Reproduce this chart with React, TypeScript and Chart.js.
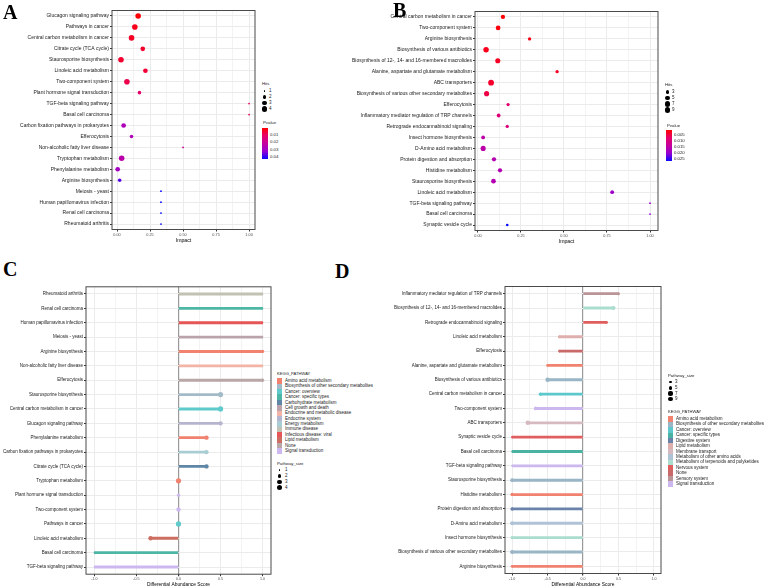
import React, { useEffect, useRef } from 'react';
import { Chart, registerables } from 'chart.js';
Chart.register(...registerables);

const SANS = "'Liberation Sans', Arial, Helvetica, sans-serif";
const SERIF = "'Liberation Serif', 'Times New Roman', serif";

// ---------------- Panel A ----------------
const pathwaysA = [
  'Glucagon signaling pathway', 'Pathways in cancer', 'Central carbon metabolism in cancer',
  'Citrate cycle (TCA cycle)', 'Staurosporine biosynthesis', 'Linoleic acid metabolism',
  'Two-component system', 'Plant hormone signal transduction', 'TGF-beta signaling pathway',
  'Basal cell carcinoma', 'Carbon fixation pathways in prokaryotes', 'Efferocytosis',
  'Non-alcoholic fatty liver disease', 'Tryptophan metabolism', 'Phenylalanine metabolism',
  'Arginine biosynthesis', 'Meiosis - yeast', 'Human papillomavirus infection',
  'Renal cell carcinoma', 'Rheumatoid arthritis',
];
const impactA = [0.16, 0.135, 0.11, 0.195, 0.03, 0.215, 0.075, 0.17, 1.0, 1.0, 0.05, 0.11, 0.5, 0.035, 0.005, 0.02, 0.333, 0.333, 0.333, 0.333];
const hitsA = [4, 4, 4, 3, 4, 3, 4, 2, 1, 1, 3, 2, 1, 4, 3, 2, 1, 1, 1, 1];
const pvalueA = [0.0003, 0.003, 0.004, 0.005, 0.005, 0.006, 0.008, 0.011, 0.010, 0.010, 0.027, 0.027, 0.020, 0.024, 0.029, 0.037, 0.0429, 0.0429, 0.0429, 0.0429];
const hitsLegendA = [1, 2, 3, 4];
const pvalueTicksA = [0.01, 0.02, 0.03, 0.04];

// ---------------- Panel B ----------------
const pathwaysB = [
  'Central carbon metabolism in cancer', 'Two-component system', 'Arginine biosynthesis',
  'Biosynthesis of various antibiotics', 'Biosynthesis of 12-, 14- and 16-membered macrolides',
  'Alanine, aspartate and glutamate metabolism', 'ABC transporters',
  'Biosynthesis of various other secondary metabolites', 'Efferocytosis',
  'Inflammatory mediator regulation of TRP channels', 'Retrograde endocannabinoid signaling',
  'Insect hormone biosynthesis', 'D-Amino acid metabolism', 'Protein digestion and absorption',
  'Histidine metabolism', 'Staurosporine biosynthesis', 'Linoleic acid metabolism',
  'TGF-beta signaling pathway', 'Basal cell carcinoma', 'Synaptic vesicle cycle',
];
const impactB = [0.145, 0.117, 0.30, 0.047, 0.115, 0.46, 0.076, 0.05, 0.175, 0.12, 0.17, 0.03, 0.03, 0.093, 0.128, 0.09, 0.78, 1.0, 1.0, 0.17];
const hitsB = [5, 6, 3, 8, 7, 3, 9, 7, 3, 4, 3, 4, 7, 5, 5, 6, 4, 1, 1, 2];
const pvalueB = [0.0008, 0.0015, 0.002, 0.0025, 0.003, 0.003, 0.0035, 0.005, 0.008, 0.009, 0.0095, 0.015, 0.015, 0.016, 0.016, 0.016, 0.019, 0.020, 0.020, 0.0266];
const hitsLegendB = [3, 5, 7, 9];
const pvalueTicksB = [0.005, 0.01, 0.015, 0.02, 0.025];

// ---------------- Panel C ----------------
const pathwaysC = [
  'Rheumatoid arthritis', 'Renal cell carcinoma', 'Human papillomavirus infection', 'Meiosis - yeast',
  'Arginine biosynthesis', 'Non-alcoholic fatty liver disease', 'Efferocytosis',
  'Staurosporine biosynthesis', 'Central carbon metabolism in cancer', 'Glucagon signaling pathway',
  'Phenylalanine metabolism', 'Carbon fixation pathways in prokaryotes', 'Citrate cycle (TCA cycle)',
  'Tryptophan metabolism', 'Plant hormone signal transduction', 'Two-component system',
  'Pathways in cancer', 'Linoleic acid metabolism', 'Basal cell carcinoma', 'TGF-beta signaling pathway',
];
const scoreC = [1, 1, 1, 1, 1, 1, 1, 0.5, 0.5, 0.5, 0.333, 0.333, 0.333, 0, 0, 0, 0, -0.333, -1, -1];
const sizeC = [1, 1, 1, 1, 2, 1, 2, 4, 4, 3, 3, 3, 3, 4, 2, 3, 4, 3, 1, 1];
const keggC = [
  'Immune disease', 'Cancer: specific types', 'Infectious disease: viral', 'Cell growth and death',
  'Amino acid metabolism', 'Endocrine and metabolic disease', 'None',
  'Biosynthesis of other secondary metabolites', 'Cancer: overview', 'Endocrine system',
  'Amino acid metabolism', 'Energy metabolism', 'Carbohydrate metabolism',
  'Amino acid metabolism', 'Signal transduction', 'Signal transduction',
  'Cancer: overview', 'Lipid metabolism', 'Cancer: specific types', 'Signal transduction',
];
const keggLegendC = [
  'Amino acid metabolism', 'Biosynthesis of other secondary metabolites', 'Cancer: overview',
  'Cancer: specific types', 'Carbohydrate metabolism', 'Cell growth and death',
  'Endocrine and metabolic disease', 'Endocrine system', 'Energy metabolism', 'Immune disease',
  'Infectious disease: viral', 'Lipid metabolism', 'None', 'Signal transduction',
];
const keggColorsC = ['#F0826F', '#A3BBC8', '#5ECACB', '#4DB6A4', '#5E86A6', '#BBA3AC', '#F3B4A6', '#B6B5CF', '#A9CDD3', '#C2C2B4', '#E65656', '#CD6E62', '#B9A6A6', '#CCB8EE'];
const sizeLegendC = [1, 2, 3, 4];

// ---------------- Panel D ----------------
const pathwaysD = [
  'Inflammatory mediator regulation of TRP channels', 'Biosynthesis of 12-, 14- and 16-membered macrolides',
  'Retrograde endocannabinoid signaling', 'Linoleic acid metabolism', 'Efferocytosis',
  'Alanine, aspartate and glutamate metabolism', 'Biosynthesis of various antibiotics',
  'Central carbon metabolism in cancer', 'Two-component system', 'ABC transporters',
  'Synaptic vesicle cycle', 'Basal cell carcinoma', 'TGF-beta signaling pathway',
  'Staurosporine biosynthesis', 'Histidine metabolism', 'Protein digestion and absorption',
  'D-Amino acid metabolism', 'Insect hormone biosynthesis',
  'Biosynthesis of various other secondary metabolites', 'Arginine biosynthesis',
];
const scoreD = [0.5, 0.43, 0.333, -0.333, -0.333, -0.5, -0.5, -0.6, -0.667, -0.778, -1, -1, -1, -1, -1, -1, -1, -1, -1, -1];
const sizeD = [4, 7, 3, 4, 3, 3, 8, 5, 6, 9, 2, 1, 1, 6, 5, 5, 7, 4, 7, 3];
const keggD = [
  'Sensory system', 'Metabolism of terpenoids and polyketides', 'Nervous system', 'Lipid metabolism',
  'None', 'Amino acid metabolism', 'Biosynthesis of other secondary metabolites', 'Cancer: overview',
  'Signal transduction', 'Membrane transport', 'Nervous system', 'Cancer: specific types',
  'Signal transduction', 'Biosynthesis of other secondary metabolites', 'Amino acid metabolism',
  'Digestive system', 'Metabolism of other amino acids', 'Metabolism of terpenoids and polyketides',
  'Biosynthesis of other secondary metabolites', 'Amino acid metabolism',
];
const keggLegendD = [
  'Amino acid metabolism', 'Biosynthesis of other secondary metabolites', 'Cancer: overview',
  'Cancer: specific types', 'Digestive system', 'Lipid metabolism', 'Membrane transport',
  'Metabolism of other amino acids', 'Metabolism of terpenoids and polyketides', 'Nervous system',
  'None', 'Sensory system', 'Signal transduction',
];
const keggColorsD = ['#F0826F', '#99B5C6', '#5CC8CB', '#49B2A2', '#6B82AA', '#DDB0AE', '#D7B9C0', '#B0C3D6', '#ABDDCF', '#E15E5E', '#C9696A', '#BA9596', '#CCB8EE'];
const sizeLegendD = [3, 5, 7, 9];

// ---------------- Axis ticks ----------------
const impactTicks = [0, 0.25, 0.5, 0.75, 1];
const impactMinor = [0.125, 0.375, 0.625, 0.875];
const scoreTicks = [-1, -0.5, 0, 0.5, 1];
const scoreMinor = [-0.75, -0.25, 0.25, 0.75];

// ---------------- helpers ----------------
const gradStops: [number, number[]][] = [
  [0, [255, 0, 0]], [0.25, [230, 0, 105]], [0.5, [198, 0, 158]], [0.75, [150, 0, 210]], [1, [10, 10, 255]],
];
function gradColor(t: number) {
  t = Math.max(0, Math.min(1, t));
  for (let i = 0; i < gradStops.length - 1; i++) {
    const [t0, c0] = gradStops[i];
    const [t1, c1] = gradStops[i + 1];
    if (t <= t1) {
      const f = (t - t0) / (t1 - t0);
      const c = c0.map((v, k) => Math.round(v + (c1[k] - v) * f));
      return `rgb(${c[0]},${c[1]},${c[2]})`;
    }
  }
  return 'rgb(10,10,255)';
}
const cssGradient = `linear-gradient(to bottom, ${gradStops.map(([t]) => `${gradColor(t)} ${t * 100}%`).join(', ')})`;

const rA = (h: number) => Math.sqrt(Math.max(0.2, -1.53 + 2.34 * h));
const rB = (h: number) => Math.sqrt(Math.max(0.2, -0.14 + 0.95 * h));
const rC = (h: number) => Math.sqrt(Math.max(0.2, -1.4 + 2.04 * h));
const rD = (h: number) => Math.sqrt(Math.max(0.2, 0.06 + 0.58 * h));

const framePlugin = {
  id: 'frame',
  afterDraw(chart: any) {
    const { ctx, chartArea: a } = chart;
    ctx.save();
    ctx.strokeStyle = '#4a4a4a';
    ctx.lineWidth = 1;
    ctx.strokeRect(a.left, a.top, a.right - a.left, a.bottom - a.top);
    ctx.restore();
  },
};

type Area = { left: number; right: number; top: number; bottom: number };

function xScale(min: number, max: number, majors: number[], minors: number[], digits: number, title: string, H: number, area: Area, tickFont: number, titleFont: number, titlePad: number) {
  return {
    type: 'linear',
    min, max,
    afterBuildTicks: (s: any) => {
      s.ticks = [...majors, ...minors].sort((a, b) => a - b).map((v) => ({ value: v }));
    },
    afterFit: (s: any) => { s.height = H - area.bottom; },
    ticks: {
      autoSkip: false, maxRotation: 0, padding: 1,
      font: { family: SANS, size: tickFont },
      color: '#4d4d4d',
      callback: (v: number) => (majors.includes(v) ? v.toFixed(digits) : ''),
    },
    grid: {
      color: (c: any) => (c.tick && c.tick.value === 0 && digits === 1 ? '#9a9a9a' : '#EBEBEB'),
      lineWidth: (c: any) => (c.tick && c.tick.value === 0 && digits === 1 ? 1.2 : (c.tick && minors.includes(c.tick.value) ? 0.6 : 1)),
      tickLength: 2,
      tickColor: (c: any) => (c.tick && majors.includes(c.tick.value) ? '#333' : 'rgba(0,0,0,0)'),
    },
    border: { display: false },
    title: {
      display: true, text: title, color: '#000',
      font: { family: SANS, size: titleFont, lineHeight: 1 },
      padding: { top: 0, bottom: titlePad },
    },
  };
}

function yScale(labels: string[], area: Area, font: number) {
  return {
    type: 'category',
    labels,
    offset: true,
    afterFit: (s: any) => { s.width = area.left; },
    ticks: { autoSkip: false, padding: 1, font: { family: SANS, size: font }, color: '#1a1a1a' },
    grid: { offset: false, color: '#EBEBEB', lineWidth: 1, tickLength: 2, tickColor: '#333' },
    border: { display: false },
  };
}

function DotPanel(props: any) {
  const { left, top, width, height, area, labels, impact, hits, pvals, xMin, xMax, radius, titlePad } = props;
  const ref = useRef<HTMLCanvasElement>(null);
  useEffect(() => {
    const lo = Math.min(...pvals);
    const hi = Math.max(...pvals);
    const chart = new Chart(ref.current as HTMLCanvasElement, {
      type: 'scatter',
      data: {
        datasets: [{
          data: labels.map((l: string, i: number) => ({ x: impact[i], y: l })),
          pointRadius: hits.map(radius),
          pointHoverRadius: hits.map(radius),
          pointBackgroundColor: pvals.map((p: number) => gradColor((p - lo) / (hi - lo))),
          pointBorderWidth: 0,
        }],
      },
      options: {
        responsive: false, animation: false, events: [], devicePixelRatio: 1,
        layout: { padding: { left: 0, top: area.top, right: width - area.right, bottom: 0 } },
        plugins: { legend: { display: false }, tooltip: { enabled: false } },
        scales: {
          x: xScale(xMin, xMax, impactTicks, impactMinor, 2, 'Impact', height, area, 3.8, 5.2, titlePad),
          y: yScale(labels, area, 5),
        },
      } as any,
      plugins: [framePlugin],
    });
    return () => chart.destroy();
  }, []);
  return <canvas ref={ref} width={width} height={height} style={{ position: 'absolute', left, top, width, height }} />;
}

function LollipopPanel(props: any) {
  const { left, top, width, height, area, labels, values, sizes, colors, radius } = props;
  const ref = useRef<HTMLCanvasElement>(null);
  useEffect(() => {
    const chart = new Chart(ref.current as HTMLCanvasElement, {
      type: 'bar',
      data: {
        labels,
        datasets: [
          {
            type: 'line', indexAxis: 'y', data: values, showLine: false, order: 0,
            pointRadius: sizes.map(radius), pointHoverRadius: sizes.map(radius),
            pointBackgroundColor: colors, pointBorderWidth: 0,
          },
          {
            type: 'bar', indexAxis: 'y', data: values, order: 1, grouped: false,
            backgroundColor: colors, borderWidth: 0, barThickness: 2.2,
          },
        ],
      },
      options: {
        indexAxis: 'y',
        responsive: false, animation: false, events: [], devicePixelRatio: 1,
        layout: { padding: { left: 0, top: area.top, right: width - area.right, bottom: 0 } },
        plugins: { legend: { display: false }, tooltip: { enabled: false } },
        scales: {
          x: xScale(-1.1, 1.1, scoreTicks, scoreMinor, 1, 'Differential Abundance Score', height, area, 3.6, 4.85, 0),
          y: yScale(labels, area, 4.5),
        },
      } as any,
      plugins: [framePlugin],
    });
    return () => chart.destroy();
  }, []);
  return <canvas ref={ref} width={width} height={height} style={{ position: 'absolute', left, top, width, height }} />;
}

const T = ({ x, y, s, children, c = '#222', family = SANS, w = 400 }: any) => (
  <div style={{
    position: 'absolute', left: x, top: y, fontSize: s, lineHeight: 1, transform: 'translateY(-50%)',
    whiteSpace: 'nowrap', color: c, fontFamily: family, fontWeight: w,
  }}>{children}</div>
);

const Dot = ({ x, y, r }: any) => (
  <div style={{ position: 'absolute', left: x - r, top: y - r, width: 2 * r, height: 2 * r, borderRadius: '50%', background: '#000' }} />
);

function SizeLegend({ x, y, title, values, radius, rowYs, labelX }: any) {
  return (
    <>
      <T x={x} y={y} s={4.3}>{title}</T>
      {values.map((v: number, i: number) => (
        <React.Fragment key={i}>
          <Dot x={x + 2.5} y={rowYs[i]} r={radius(v)} />
          <T x={labelX} y={rowYs[i]} s={4.5}>{v}</T>
        </React.Fragment>
      ))}
    </>
  );
}

function ColorBar({ x, y, top, bottom, pvals, ticks, digits }: any) {
  const lo = Math.min(...pvals);
  const hi = Math.max(...pvals);
  return (
    <>
      <T x={x} y={y} s={4.3}>Pvalue</T>
      <div style={{ position: 'absolute', left: x - 1, top, width: 6, height: bottom - top, background: cssGradient }} />
      {ticks.map((t: number, i: number) => (
        <T key={i} x={x + 7} y={top + ((t - lo) / (hi - lo)) * (bottom - top)} s={4.3}>{t.toFixed(digits)}</T>
      ))}
    </>
  );
}

function KeggLegend({ x, y, first, step, names, colors }: any) {
  return (
    <>
      <T x={x} y={y} s={4.1}>KEGG_PATHWAY</T>
      {names.map((n: string, i: number) => (
        <React.Fragment key={i}>
          <div style={{ position: 'absolute', left: x, top: first + i * step - step / 2, width: 5, height: step, background: colors[i] }} />
          <T x={x + 8} y={first + i * step} s={4.5}>{n}</T>
        </React.Fragment>
      ))}
    </>
  );
}

export default function App() {
  const colorsC = keggC.map((k) => keggColorsC[keggLegendC.indexOf(k)]);
  const colorsD = keggD.map((k) => keggColorsD[keggLegendD.indexOf(k)]);
  return (
    <div style={{ position: 'absolute', left: 0, top: 0, width: 767, height: 587, overflow: 'hidden', background: '#fff' }}>
      <DotPanel left={0} top={0} width={258} height={250}
        area={{ left: 112, right: 255, top: 10.5, bottom: 229.5 }}
        labels={pathwaysA} impact={impactA} hits={hitsA} pvals={pvalueA}
        xMin={-0.038} xMax={1.045} radius={rA} titlePad={6.5} />
      <DotPanel left={340} top={0} width={330} height={250}
        area={{ left: 135, right: 318, top: 11.5, bottom: 230.5 }}
        labels={pathwaysB} impact={impactB} hits={hitsB} pvals={pvalueB}
        xMin={-0.0174} xMax={1.0465} radius={rB} titlePad={5.5} />
      <LollipopPanel left={0} top={280} width={275} height={307}
        area={{ left: 86, right: 271, top: 6.8, bottom: 294.2 }}
        labels={pathwaysC} values={scoreC} sizes={sizeC} colors={colorsC} radius={rC} />
      <LollipopPanel left={390} top={280} width={275} height={307}
        area={{ left: 115, right: 271, top: 6.5, bottom: 293.5 }}
        labels={pathwaysD} values={scoreD} sizes={sizeD} colors={colorsD} radius={rD} />

      <T x={3} y={11.5} s={20} family={SERIF} w={700} c="#000">A</T>
      <T x={393} y={10} s={20} family={SERIF} w={700} c="#000">B</T>
      <T x={3} y={268.5} s={20} family={SERIF} w={700} c="#000">C</T>
      <T x={335} y={271} s={20} family={SERIF} w={700} c="#000">D</T>

      <SizeLegend x={262} y={84} title="Hits" values={hitsLegendA} radius={rA} rowYs={[91, 97, 103, 109]} labelX={269} />
      <ColorBar x={263} y={123} top={128} bottom={159} pvals={pvalueA} ticks={pvalueTicksA} digits={2} />

      <SizeLegend x={665} y={85} title="Hits" values={hitsLegendB} radius={rB} rowYs={[92, 98, 104, 110]} labelX={672} />
      <ColorBar x={667} y={126} top={130} bottom={161} pvals={pvalueB} ticks={pvalueTicksB} digits={3} />

      <KeggLegend x={277} y={374} first={381} step={5.38} names={keggLegendC} colors={keggColorsC} />
      <SizeLegend x={277} y={464} title="Pathway_size" values={sizeLegendC} radius={rC} rowYs={[470, 476, 482, 487.5]} labelX={285} />

      <SizeLegend x={668} y={376} title="Pathway_size" values={sizeLegendD} radius={rD} rowYs={[382, 388, 393.5, 399]} labelX={675} />
      <KeggLegend x={668} y={412} first={419} step={5.42} names={keggLegendD} colors={keggColorsD} />
    </div>
  );
}
